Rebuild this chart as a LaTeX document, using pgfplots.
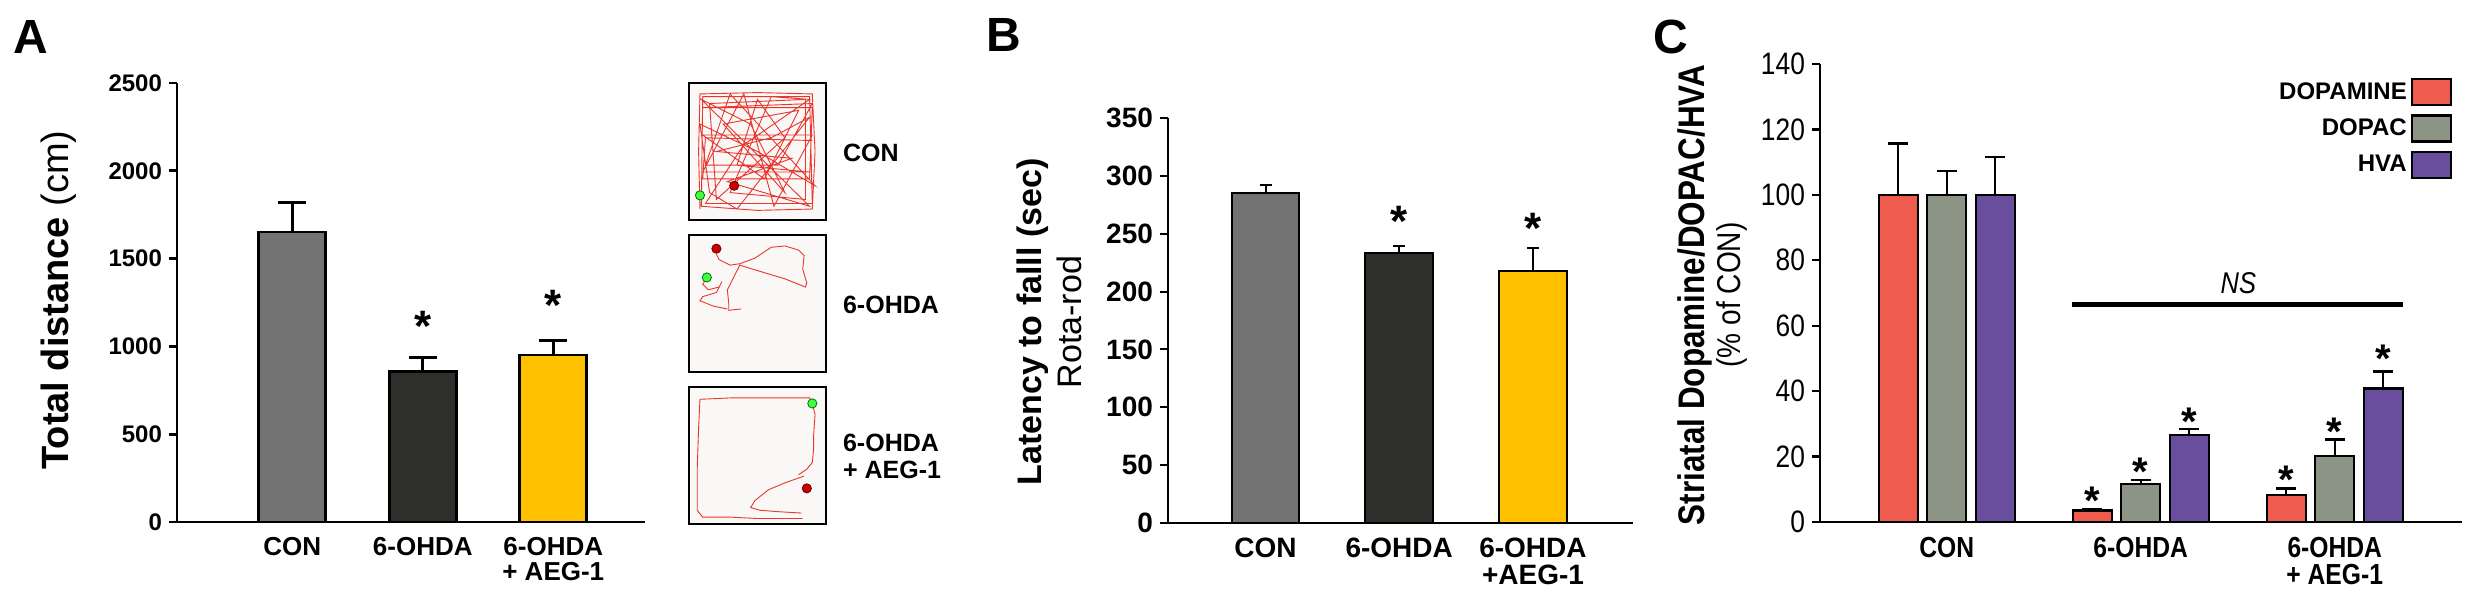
\documentclass[border=0pt]{standalone}
\usepackage{fontspec}
\setmainfont{Liberation Sans}
\newfontfamily\narrow[FakeStretch=0.85]{Liberation Sans}
\usepackage{pgfplots}
\pgfplotsset{compat=1.18}
\definecolor{conA}{HTML}{737373}
\definecolor{ohda}{HTML}{2E2E2A}
\definecolor{aeg}{HTML}{FFC000}
\definecolor{cRed}{HTML}{EF5B4C}
\definecolor{cGray}{HTML}{8C9585}
\definecolor{cPurple}{HTML}{6A4E9E}
\definecolor{trk}{HTML}{E8372E}
\definecolor{trkbg}{HTML}{FAF8F6}
\newcommand{\fsz}[2]{\fontsize{#1}{#2}\selectfont}
\newcommand{\sig}[3]{\node[font=\fsz{#3}{#3}\bfseries, inner sep=0pt, yshift=-0.215*#3] at (axis cs:#1,#2) {*};}
\pgfplotsset{
  panel/.style={
    scale only axis, anchor=south west,
    axis x line*=bottom, axis y line*=left,
    tick align=outside, major tick length=4pt,
    xtick={1,2,3}, xtick style={draw=none},
    ymin=0, clip=false,
    /pgf/number format/assume math mode=true,
    /pgf/number format/1000 sep={},
    scaled y ticks=false,
    xticklabel style={align=center, anchor=north},
    error bars/y dir=plus, error bars/y explicit,
  },
  track/.style={
    scale only axis, anchor=south west, width=68.5pt, height=68.5pt,
    xmin=0, xmax=100, ymin=0, ymax=100, xtick=\empty, ytick=\empty,
    axis line style={line width=0.8pt},
    axis background/.style={fill=trkbg},
  },
}
\begin{document}
\begin{tikzpicture}
\path[use as bounding box] (0,0) rectangle (1240pt,301.5pt);
% ---------------- Panel A ----------------
\begin{axis}[panel, at={(88.5pt,40.5pt)}, width=234pt, height=219.5pt,
  xmin=0.116, xmax=3.703, ymax=2500, ytick={0,500,...,2500},
  xticklabels={CON, 6-OHDA, {6-OHDA\\+ AEG-1}},
  xticklabel style={font=\fsz{13pt}{12.5pt}\bfseries},
  yticklabel style={font=\fsz{12pt}{12pt}\bfseries},
  axis line style={line width=1.4pt}, tick style={line width=1.4pt, black},
  ybar, bar width=0.513,
  error bars/error bar style={line width=1.4pt, black},
  error bars/error mark options={rotate=90, mark size=7pt, line width=1.4pt, black},
]
\addplot[bar shift=0, fill=conA, draw=black, line width=1.4pt] coordinates {(1,1651) +- (0,169)};
\addplot[bar shift=0, fill=ohda, draw=black, line width=1.4pt] coordinates {(2,857) +- (0,79)};
\addplot[bar shift=0, fill=aeg, draw=black, line width=1.4pt] coordinates {(3,951) +- (0,81)};
\sig{2}{1167}{22pt}
\sig{3}{1287}{22pt}
\end{axis}
\node[rotate=90, font=\fsz{19pt}{19pt}] at (29.5pt,151.5pt) {\textbf{Total distance} (cm)};
\node[font=\fsz{24pt}{24pt}\bfseries] at (15.5pt,283pt) {A};
% ---------------- Track insets ----------------
\begin{axis}[track, at={(344.5pt,191.5pt)}]
\addplot[trk, line width=0.45pt, mark=none] coordinates {
(8,8) (7,50) (8,92) (50,93) (90,92) (92,50) (90,8) (50,7) (9,10) (10,90) (88,90) (90,12) (12,12)
(40,55) (88,88) (60,90) (30,20) (85,15) (85,88) (15,85) (20,15) (70,60) (50,88) (35,40) (88,35) (10,35) (40,92) (62,10) (90,62) (10,62) (55,30) (80,80) (25,70) (70,20) (45,70) (9,88) (88,10) (28,28) (75,45) (20,50) (60,60) (88,75) (35,8) (15,20) (8,70) (50,50) (92,25) (30,92) (12,40) (65,40) (90,85)
(10,82) (90,82) (88,30) (10,30) (12,60) (90,58)};
\addplot[only marks, mark=*, mark size=2.3pt, mark options={fill=green!75!white, draw=green!45!black}] coordinates {(8,18)};
\addplot[only marks, mark=*, mark size=2.3pt, mark options={fill=red!80!black, draw=red!40!black}] coordinates {(33,25)};
\end{axis}
\begin{axis}[track, at={(344.5pt,115.5pt)}]
\addplot[trk, line width=0.45pt, mark=none] coordinates {
(20,86) (22,82) (30,78) (37,79) (48,83) (60,91) (70,92) (80,89) (84,85) (83,75) (86,65) (85,62) (70,68) (50,74) (37,78) (33,70) (28,60) (29,50) (29,45) (38,46)};
\addplot[trk, line width=0.45pt, mark=none] coordinates {
(13,69) (10,64) (14,60) (22,62) (24,66) (20,58) (10,55) (8,52) (18,48) (28,46)};
\addplot[only marks, mark=*, mark size=2.3pt, mark options={fill=red!80!black, draw=red!40!black}] coordinates {(20,90)};
\addplot[only marks, mark=*, mark size=2.3pt, mark options={fill=green!75!white, draw=green!45!black}] coordinates {(13,69)};
\end{axis}
\begin{axis}[track, at={(344.5pt,39.5pt)}]
\addplot[trk, line width=0.45pt, mark=none] coordinates {
(90,88) (88,92) (60,92) (30,92) (8,91) (7,70) (6,40) (6,10) (10,5) (30,5) (50,4) (83,4)};
\addplot[trk, line width=0.45pt, mark=none] coordinates {
(90,88) (92,80) (91,65) (91,55) (90,45) (86,40) (80,36)};
\addplot[trk, line width=0.45pt, mark=none] coordinates {
(84,35) (70,30) (58,25) (48,17) (45,12) (52,10) (65,9) (82,8)};
\addplot[only marks, mark=*, mark size=2.3pt, mark options={fill=red!80!black, draw=red!40!black}] coordinates {(86,26)};
\addplot[only marks, mark=*, mark size=2.3pt, mark options={fill=green!75!white, draw=green!45!black}] coordinates {(90,88)};
\end{axis}
\node[anchor=west, font=\fsz{12.5pt}{13.5pt}\bfseries] at (418pt,225pt) {CON};
\node[anchor=west, font=\fsz{12.5pt}{13.5pt}\bfseries] at (418pt,149pt) {6-OHDA};
\node[anchor=west, align=left, font=\fsz{12.5pt}{13.5pt}\bfseries] at (418pt,73.25pt) {6-OHDA\\+ AEG-1};
% ---------------- Panel B ----------------
\begin{axis}[panel, at={(584pt,40pt)}, width=232.5pt, height=202.5pt,
  xmin=0.271, xmax=3.748, ymax=350, ytick={0,50,...,350},
  xticklabels={CON, 6-OHDA, {6-OHDA\\+AEG-1}},
  xticklabel style={font=\fsz{14pt}{13.5pt}\bfseries},
  yticklabel style={font=\fsz{14pt}{14pt}\bfseries},
  axis line style={line width=1pt}, tick style={line width=1pt, black},
  ybar, bar width=0.505,
  error bars/error bar style={line width=1pt, black},
  error bars/error mark options={rotate=90, mark size=3pt, line width=1pt, black},
]
\addplot[bar shift=0, fill=conA, draw=black, line width=1pt] coordinates {(1,285) +- (0,7)};
\addplot[bar shift=0, fill=ohda, draw=black, line width=1pt] coordinates {(2,233.7) +- (0,5.3)};
\addplot[bar shift=0, fill=aeg, draw=black, line width=1pt] coordinates {(3,217.7) +- (0,20.3)};
\sig{2}{269}{22pt}
\sig{3}{263}{22pt}
\end{axis}
\node[rotate=90, align=center, font=\fsz{17pt}{20pt}] at (524.5pt,140.5pt) {\textbf{Latency to falll (sec)}\\Rota-rod};
\node[font=\fsz{24pt}{24pt}\bfseries] at (502pt,284pt) {B};
% ---------------- Panel C ----------------
\begin{axis}[panel, at={(910pt,40.5pt)}, width=321pt, height=229pt,
  xmin=0.347, xmax=3.656, ymax=140, ytick={0,20,...,140},
  xticklabels={CON, 6-OHDA, {6-OHDA\\+ AEG-1}},
  xticklabel style={font=\narrow\fsz{14.5pt}{13.5pt}\bfseries},
  yticklabel style={font=\narrow\fsz{15.5pt}{15.5pt}},
  axis line style={line width=1.4pt}, tick style={line width=1.2pt, black},
  ybar, bar width=0.201,
  legend image code/.code={\draw[#1] (0pt,-6.5pt) rectangle (19.5pt,6.5pt);},
  legend plot pos=right,
  legend cell align=right,
  legend style={at={(0.985,0.970)}, anchor=north east, draw=none, fill=none,
    inner sep=0pt, row sep=4pt, font=\fsz{12pt}{12pt}\bfseries},
  error bars/error bar style={line width=1.2pt, black},
  error bars/error mark options={rotate=90, mark size=5pt, line width=1.2pt, black},
]
\addplot[bar shift=-0.25, fill=cRed, draw=black, line width=1.1pt] coordinates {(1,100) +- (0,15.7) (2,3.5) +- (0,0.5) (3,8.2) +- (0,2.0)};
\addplot[bar shift=0, fill=cGray, draw=black, line width=1.1pt] coordinates {(1,100) +- (0,7.2) (2,11.5) +- (0,1.4) (3,20.1) +- (0,5.1)};
\addplot[bar shift=0.25, fill=cPurple, draw=black, line width=1.1pt] coordinates {(1,100) +- (0,11.6) (2,26.5) +- (0,2.0) (3,40.8) +- (0,5.2)};
\legend{DOPAMINE, DOPAC, HVA}
\addplot[sharp plot, black, line width=2.5pt, mark=none, forget plot] coordinates {(1.646,66.4) (3.352,66.4)};
\node[font=\narrow\fsz{15pt}{15pt}\itshape] at (axis cs:2.503,73) {NS};
\sig{1.75}{9.2}{20pt}
\sig{2}{18}{20pt}
\sig{2.25}{33.2}{20pt}
\sig{2.75}{15.6}{20pt}
\sig{3}{30.3}{20pt}
\sig{3.25}{52.6}{20pt}
\end{axis}
\node[rotate=90, font=\narrow\fsz{18.5pt}{18.5pt}\bfseries] at (847.5pt,154pt) {Striatal Dopamine/DOPAC/HVA};
\node[rotate=90, font=\narrow\fsz{16.5pt}{16.5pt}] at (866pt,154pt) {(\% of CON)};
\node[font=\fsz{24pt}{24pt}\bfseries] at (835.5pt,283pt) {C};
\end{tikzpicture}
\end{document}
